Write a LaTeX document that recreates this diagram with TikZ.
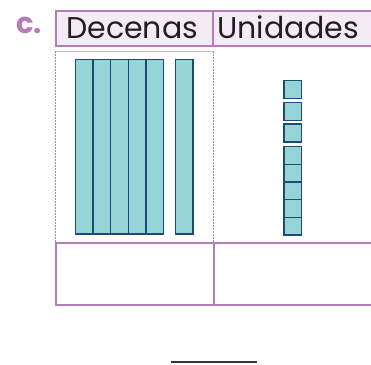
\documentclass[tikz,border=0pt]{standalone}
\usepackage{fontspec}
\setmainfont{Poppins}
\definecolor{frame}{HTML}{B67CB9}
\definecolor{headfill}{HTML}{F4EBF4}
\definecolor{blockfill}{HTML}{95D4D7}
\definecolor{blockline}{HTML}{1F4A73}
\definecolor{ink}{HTML}{231F20}
\tikzset{
  cell/.style={draw=frame, line width=2pt},
  guide/.style={draw=gray!85, line width=1.3pt, dash pattern=on 1.5pt off 1.5pt},
  block/.style={draw=blockline, fill=blockfill, line width=1.3pt},
  headtext/.style={text=ink, font=\fontsize{30}{32}\selectfont, inner sep=0pt, anchor=base west},
}
\begin{document}
\begin{tikzpicture}[x=1pt,y=-1pt]
\useasboundingbox (0,0) rectangle (371,364);
\clip (0,0) rectangle (371,364);

% item letter
\node[text=frame, font=\fontsize{29}{30}\selectfont\bfseries, inner sep=0pt, anchor=base west] (letter) at (16,33.5) {c.};

% header row
\fill[headfill] (55.7,10.7) rectangle (380,45.7);
\draw[cell] (55.7,10.7) rectangle (380,45.7);
\draw[cell] (213.3,10.7) -- (213.3,45.7);
\node[headtext] (tens) at (66,38.5) {Decenas};
\node[headtext] (units) at (217,38.5) {Unidades};

% drawing area
\draw[frame!60, line width=1pt] (55.7,51) -- (213.3,51);
\draw[guide] (55.2,51) -- (55.2,242);
\draw[guide] (213.8,51) -- (213.8,242);

% tens: six rods
\foreach \x in {75.3,93,110.7,128.4,146.1}
  \draw[block] (\x,59.7) rectangle ++(17.7,174.3);
\draw[block] (175.2,59.7) rectangle ++(17.7,174.3);

% units: eight cubes
\foreach \y in {80.7,102.4,124}
  \draw[block] (283.9,\y) rectangle ++(17.9,17.9);
\foreach \y in {146.7,164.4,182.1,199.8,217.5}
  \draw[block] (283.9,\y) rectangle ++(17.9,17.6);

% answer row
\draw[cell] (55.7,242.7) rectangle (380,305);
\draw[cell] (214,242.7) -- (214,305);

% answer line
\coordinate (lineA) at (170.7,361.7);
\coordinate (lineB) at (256.7,361.7);
\draw[ink!90, line width=2pt] (lineA) -- (lineB);
\end{tikzpicture}
\end{document}
